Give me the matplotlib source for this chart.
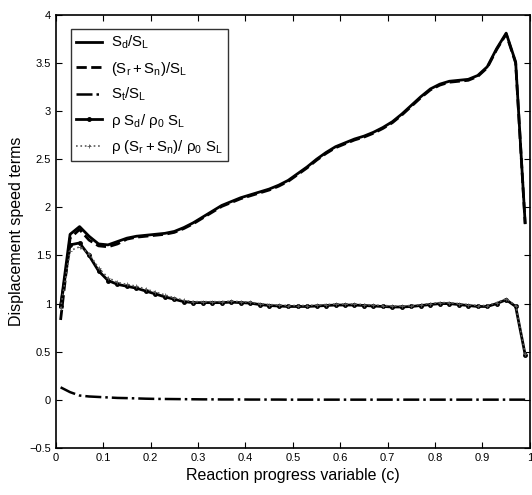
import matplotlib
matplotlib.use("Agg")
import matplotlib.pyplot as plt
import numpy as np

plt.rcParams['font.family'] = ['Liberation Sans', 'DejaVu Sans']
plt.rcParams['mathtext.fontset'] = 'custom'
plt.rcParams['mathtext.rm'] = 'Liberation Sans'
plt.rcParams['mathtext.it'] = 'Liberation Sans'
plt.rcParams['mathtext.default'] = 'regular'

c = np.round(np.arange(0.01, 1.0, 0.02), 2)

sd = [0.97, 1.72, 1.80, 1.70, 1.62, 1.61, 1.645, 1.68, 1.70, 1.71,
      1.72, 1.73, 1.75, 1.79, 1.84, 1.90, 1.96, 2.02, 2.06, 2.10,
      2.13, 2.16, 2.19, 2.23, 2.28, 2.35, 2.42, 2.50, 2.57, 2.63,
      2.67, 2.71, 2.74, 2.78, 2.83, 2.89, 2.97, 3.06, 3.15, 3.23,
      3.28, 3.31, 3.32, 3.33, 3.37, 3.46, 3.65, 3.81, 3.51, 1.84]

srn = [0.83, 1.68, 1.77, 1.66, 1.60, 1.59, 1.62, 1.67, 1.69, 1.70,
       1.71, 1.72, 1.74, 1.78, 1.83, 1.89, 1.95, 2.01, 2.05, 2.09,
       2.12, 2.15, 2.18, 2.22, 2.27, 2.34, 2.41, 2.49, 2.56, 2.62,
       2.66, 2.70, 2.73, 2.77, 2.82, 2.88, 2.96, 3.05, 3.14, 3.22,
       3.27, 3.30, 3.31, 3.32, 3.36, 3.45, 3.64, 3.80, 3.50, 1.83]

st = [0.13, 0.08, 0.045, 0.035, 0.03, 0.025, 0.02, 0.018, 0.015, 0.012,
      0.01, 0.009, 0.008, 0.007, 0.006, 0.005, 0.005, 0.004, 0.004, 0.004,
      0.003, 0.003, 0.003, 0.003, 0.002, 0.002, 0.002, 0.002, 0.002, 0.002,
      0.002, 0.002, 0.002, 0.002, 0.002, 0.002, 0.002, 0.002, 0.002, 0.002,
      0.002, 0.002, 0.002, 0.002, 0.002, 0.002, 0.002, 0.002, 0.002, 0.002]

rsd = [0.97, 1.61, 1.63, 1.50, 1.34, 1.24, 1.20, 1.18, 1.16, 1.13,
       1.10, 1.07, 1.045, 1.02, 1.01, 1.01, 1.01, 1.01, 1.015, 1.01,
       1.005, 0.99, 0.98, 0.975, 0.97, 0.97, 0.97, 0.975, 0.98, 0.985,
       0.985, 0.985, 0.98, 0.975, 0.97, 0.965, 0.965, 0.97, 0.98, 0.99,
       1.00, 1.00, 0.99, 0.98, 0.97, 0.97, 1.00, 1.04, 0.97, 0.47]

rsrn = [0.95, 1.55, 1.59, 1.52, 1.37, 1.27, 1.22, 1.20, 1.18, 1.15,
        1.12, 1.09, 1.06, 1.035, 1.02, 1.02, 1.02, 1.02, 1.025, 1.02,
        1.015, 1.00, 0.99, 0.985, 0.98, 0.98, 0.98, 0.985, 0.99, 0.995,
        0.995, 0.995, 0.99, 0.985, 0.98, 0.975, 0.975, 0.98, 0.99, 1.00,
        1.01, 1.01, 1.00, 0.99, 0.98, 0.98, 1.01, 1.05, 0.98, 0.48]

labels = [r'$S_d/S_L$', r'$(S_r+S_n)/S_L$', r'$S_t/S_L$',
          r'$\rho\ S_d/\ \rho_0\ S_L$', r'$\rho\ (S_r+S_n)/\ \rho_0\ S_L$']

fig = plt.figure(figsize=(5.32, 4.95), dpi=100)
ax = fig.add_axes([0.105, 0.095, 0.891, 0.875])

ax.plot(c, sd, 'k-', lw=2, label=labels[0])
ax.plot(c, srn, 'k--', lw=2, label=labels[1])
ax.plot(c, st, 'k-.', lw=1.8, label=labels[2])
ax.plot(c, rsd, 'k-', lw=2, marker='.', ms=5, label=labels[3])
ax.plot(c, rsrn, color='0.35', ls=':', lw=1.2, marker='+', ms=3, mew=0.6, label=labels[4])

ax.set_xlim(0, 1)
ax.set_ylim(-0.5, 4)
ax.set_xticks(np.arange(0, 1.01, 0.1))
ax.set_xticklabels(['0', '0.1', '0.2', '0.3', '0.4', '0.5', '0.6', '0.7', '0.8', '0.9', '1'])
ax.set_yticks(np.arange(-0.5, 4.01, 0.5))
ax.set_yticklabels(['\u22120.5', '0', '0.5', '1', '1.5', '2', '2.5', '3', '3.5', '4'])
ax.tick_params(direction='in', top=True, right=True, labelsize=8, length=4, width=0.8)
for s in ax.spines.values():
    s.set_linewidth(1.2)

ax.set_xlabel('Reaction progress variable (c)', fontsize=11.5)
ax.set_ylabel('Displacement speed terms', fontsize=11.5)

leg = ax.legend(loc='upper left', bbox_to_anchor=(0.032, 0.968), fontsize=10.8,
                frameon=True, fancybox=False, edgecolor='k', handlelength=1.7,
                labelspacing=0.55, borderpad=0.35, handletextpad=0.6,
                borderaxespad=0.0)
leg.get_frame().set_linewidth(1.0)

fig.savefig('out.png', dpi=100)
